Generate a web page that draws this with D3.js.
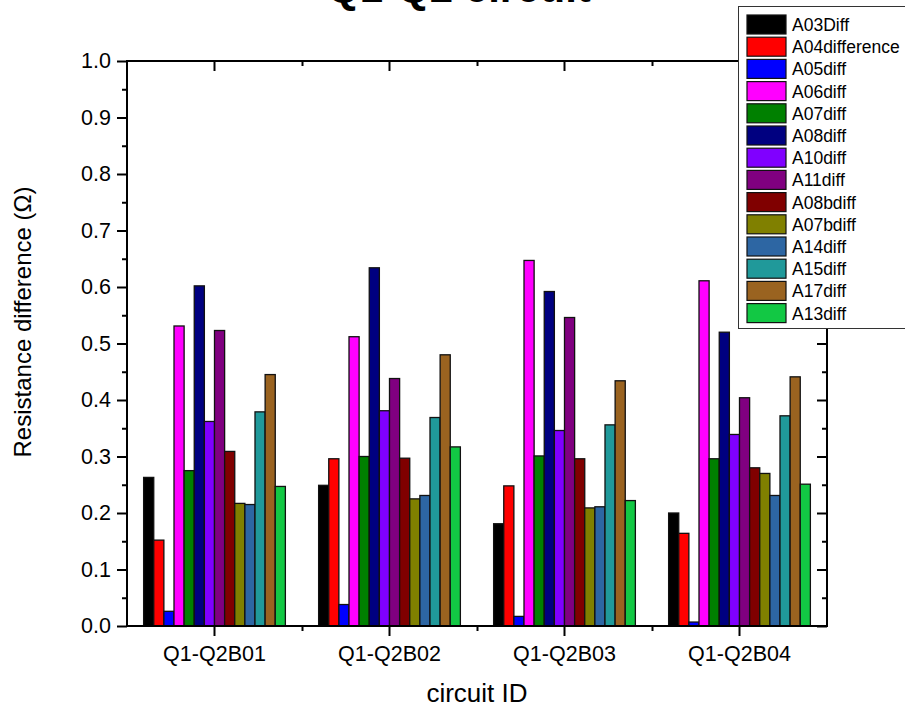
<!DOCTYPE html>
<html>
<head>
<meta charset="utf-8">
<script src="https://cdn.jsdelivr.net/npm/d3@7"></script>
<style>
  body { margin: 0; background: #fff; }
  svg { font-family: Arial, "Liberation Sans", sans-serif; }
</style>
</head>
<body>
<script>
// data
var circuits = ["Q1-Q2B01", "Q1-Q2B02", "Q1-Q2B03", "Q1-Q2B04"];
var seriesNames = ["A03Diff", "A04difference", "A05diff", "A06diff", "A07diff", "A08diff", "A10diff",
                   "A11diff", "A08bdiff", "A07bdiff", "A14diff", "A15diff", "A17diff", "A13diff"];
var seriesColors = ["#000000", "#ff0000", "#0000ff", "#ff00ff", "#008000", "#000080", "#8000ff",
                    "#800080", "#800000", "#808000", "#2d66a3", "#20999a", "#9a6320", "#12c844"];
var B01 = [0.263, 0.152, 0.026, 0.531, 0.275, 0.602, 0.362, 0.523, 0.309, 0.217, 0.215, 0.379, 0.445, 0.247];
var B02 = [0.249, 0.296, 0.038, 0.512, 0.300, 0.634, 0.381, 0.438, 0.297, 0.225, 0.231, 0.369, 0.480, 0.317];
var B03 = [0.181, 0.248, 0.017, 0.647, 0.301, 0.592, 0.346, 0.546, 0.296, 0.209, 0.211, 0.356, 0.434, 0.222];
var B04 = [0.200, 0.164, 0.007, 0.611, 0.296, 0.520, 0.339, 0.404, 0.280, 0.270, 0.231, 0.372, 0.441, 0.251];
var yTicks = [0.0, 0.1, 0.2, 0.3, 0.4, 0.5, 0.6, 0.7, 0.8, 0.9, 1.0];
var yMinorTicks = [0.05, 0.15, 0.25, 0.35, 0.45, 0.55, 0.65, 0.75, 0.85, 0.95];

var groups = [B01, B02, B03, B04];

var width = 905, height = 708;
var mLeft = 127, mRight = 827, mTop = 61, mBottom = 626;

var svg = d3.select("body").append("svg")
    .attr("width", width)
    .attr("height", height);

var x0 = d3.scaleBand()
    .domain(circuits)
    .range([mLeft, mRight])
    .padding(0);

var x1 = d3.scaleBand()
    .domain(seriesNames)
    .range([0, x0.bandwidth() * 0.81])
    .padding(0);

var y = d3.scaleLinear()
    .domain([0, 1])
    .range([mBottom, mTop]);

var xLin = d3.scaleLinear().domain([mLeft, mRight]).range([mLeft, mRight]);
var bounds = circuits.slice(1).map(function(c) { return x0(c); });

// bars
var g = svg.selectAll("g.grp")
    .data(groups)
    .enter().append("g")
    .attr("class", "grp")
    .attr("transform", function(d, i) {
        return "translate(" + (x0(circuits[i]) + x0.bandwidth() * 0.095) + ",0)";
    });

g.selectAll("rect")
    .data(function(d) { return d; })
    .enter().append("rect")
    .attr("x", function(d, i) { return x1(seriesNames[i]); })
    .attr("y", function(d) { return y(d); })
    .attr("width", x1.bandwidth())
    .attr("height", function(d) { return mBottom - y(d); })
    .attr("fill", function(d, i) { return seriesColors[i]; })
    .attr("stroke", "#111")
    .attr("stroke-width", 1.3);

// left axis
svg.append("g").attr("class", "axis").attr("transform", "translate(" + mLeft + ",0)")
    .call(d3.axisLeft(y).tickValues(yTicks).tickFormat(d3.format(".1f")).tickSize(10).tickPadding(6));
svg.append("g").attr("class", "axis").attr("transform", "translate(" + mLeft + ",0)")
    .call(d3.axisLeft(y).tickValues(yMinorTicks).tickFormat("").tickSize(5));

// right axis, ticks inward
svg.append("g").attr("class", "axis").attr("transform", "translate(" + mRight + ",0)")
    .call(d3.axisRight(y).tickValues(yTicks).tickFormat("").tickSize(-10));
svg.append("g").attr("class", "axis").attr("transform", "translate(" + mRight + ",0)")
    .call(d3.axisRight(y).tickValues(yMinorTicks).tickFormat("").tickSize(-5));

// bottom axis
svg.append("g").attr("class", "axis").attr("transform", "translate(0," + mBottom + ")")
    .call(d3.axisBottom(x0).tickSize(10).tickPadding(10));
svg.append("g").attr("class", "axis").attr("transform", "translate(0," + mBottom + ")")
    .call(d3.axisBottom(xLin).tickValues(bounds).tickFormat("").tickSize(5));

// top axis, ticks inward
svg.append("g").attr("class", "axis").attr("transform", "translate(0," + mTop + ")")
    .call(d3.axisTop(x0).tickFormat("").tickSize(-10));
svg.append("g").attr("class", "axis").attr("transform", "translate(0," + mTop + ")")
    .call(d3.axisTop(xLin).tickValues(bounds).tickFormat("").tickSize(-5));

svg.selectAll(".axis .domain").remove();
svg.selectAll(".axis line").attr("stroke", "#000").attr("stroke-width", 2);
svg.selectAll(".axis text").attr("fill", "#000").style("font-size", "21.5px");

// frame
svg.append("rect")
    .attr("x", mLeft).attr("y", mTop)
    .attr("width", mRight - mLeft).attr("height", mBottom - mTop)
    .attr("fill", "none").attr("stroke", "#000").attr("stroke-width", 2);

// titles (main title sits mostly above the visible area, as in the original)
svg.append("text")
    .attr("x", 459).attr("y", 2)
    .attr("text-anchor", "middle")
    .style("font-size", "42px").style("font-weight", "bold")
    .text("Q1-Q2 circuit");

svg.append("text")
    .attr("x", 477).attr("y", 702)
    .attr("text-anchor", "middle")
    .style("font-size", "26px")
    .text("circuit ID");

svg.append("text")
    .attr("transform", "translate(31,322) rotate(-90)")
    .attr("text-anchor", "middle")
    .style("font-size", "24px")
    .text("Resistance difference (\u03A9)");

// legend
var legend = svg.append("g");
legend.append("rect")
    .attr("x", 738.5).attr("y", 6.5)
    .attr("width", 180).attr("height", 322)
    .attr("fill", "#fff").attr("stroke", "#333").attr("stroke-width", 1);

var item = legend.selectAll("g.item")
    .data(seriesNames)
    .enter().append("g")
    .attr("transform", function(d, i) { return "translate(747," + (15 + i * 22.2) + ")"; });

item.append("rect")
    .attr("width", 39).attr("height", 19)
    .attr("fill", function(d, i) { return seriesColors[i]; })
    .attr("stroke", "#111").attr("stroke-width", 1.2);

item.append("text")
    .attr("x", 45).attr("y", 16)
    .style("font-size", "17.5px")
    .text(function(d) { return d; });
</script>
</body>
</html>
